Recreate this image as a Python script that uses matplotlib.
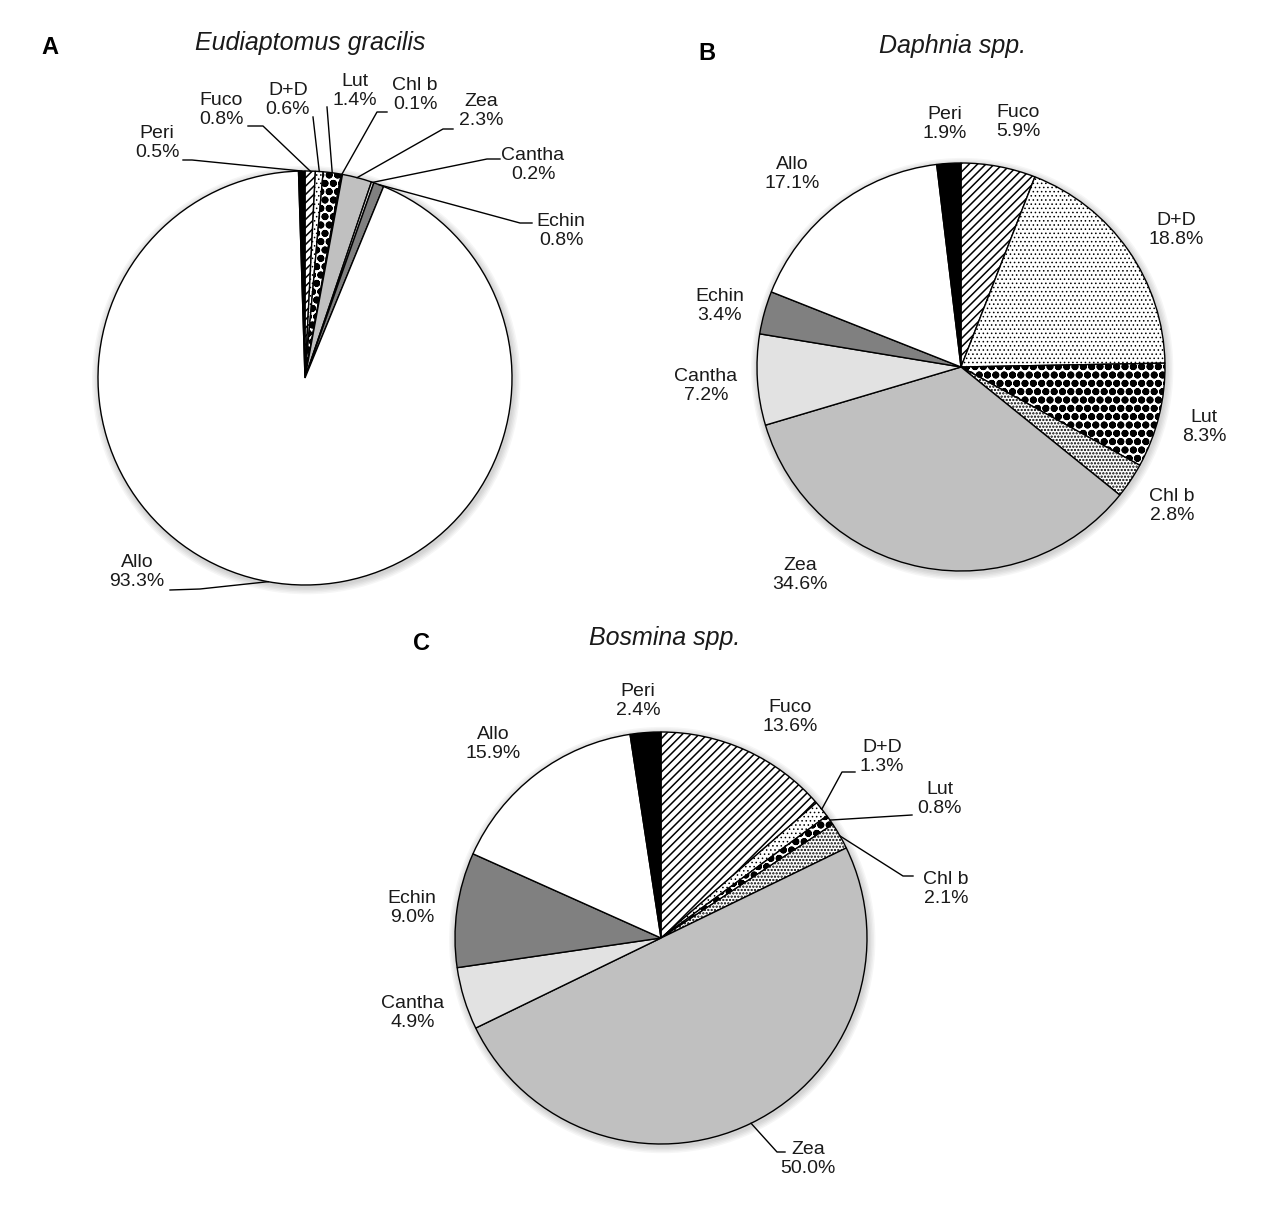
import numpy as np
import matplotlib.pyplot as plt
from matplotlib.patches import Circle

plt.rcParams['font.family'] = ['Liberation Sans', 'DejaVu Sans']

# pigment shares (%), slices in clockwise order starting at 12 o'clock
pigments = ['Fuco', 'D+D', 'Lut', 'Chl b', 'Zea', 'Cantha', 'Echin', 'Allo', 'Peri']
eudiaptomus = [0.8, 0.6, 1.4, 0.1, 2.3, 0.2, 0.8, 93.3, 0.5]
daphnia = [5.9, 18.8, 8.3, 2.8, 34.6, 7.2, 3.4, 17.1, 1.9]
bosmina = [13.6, 1.3, 0.8, 2.1, 50.0, 4.9, 9.0, 15.9, 2.4]

fills = ['white', 'white', 'white', 'white', '#c0c0c0', '#e2e2e2', '#808080', 'white', 'black']
hatches = ['////', '....', 'oo', '.....', None, None, None, None, None]
hatch_lw = [1.1, 0.6, 2.6, 1.1, 1.0, 1.0, 1.0, 1.0, 1.0]

W, H = 1280, 1216
fig = plt.figure(figsize=(W / 100, H / 100), dpi=100)


def draw_pie(values, cx, cy, r, title, title_xy, letter, letter_xy, label_pos, leaders):
    ax = fig.add_axes([(cx - r) / W, (H - cy - r) / H, 2 * r / W, 2 * r / H])
    # soft shadow round the pie
    for k in range(1, 6):
        ax.add_patch(Circle((0.006, -0.010), 1.0 + 0.007 * k, color='black',
                            alpha=0.035, lw=0, zorder=0, clip_on=False))
    ax.add_patch(Circle((0, 0), 1.0, color='white', lw=0, zorder=0.5))
    wedges, _ = ax.pie(values, startangle=90, counterclock=False, colors=fills,
                       wedgeprops=dict(edgecolor='black', linewidth=1.0))
    ax.set_xlim(-1, 1)
    ax.set_ylim(-1, 1)
    for w, h, hl in zip(wedges, hatches, hatch_lw):
        if h:
            w.set_hatch(h)
            if hasattr(w, 'set_hatch_linewidth'):
                w.set_hatch_linewidth(hl)

    def to_data(x, y):
        return (x - cx) / r, (cy - y) / r

    for name, v, w in zip(pigments, values, wedges):
        tx, ty = to_data(*label_pos[name])
        ax.text(tx, ty, f'{name}\n{v:.1f}%', ha='center', va='center',
                fontsize=14, linespacing=1.15, color='#1a1a1a', clip_on=False)
        if name in leaders:
            mid = np.deg2rad((w.theta1 + w.theta2) / 2)
            pts = [(np.cos(mid), np.sin(mid))] + [to_data(x, y) for x, y in leaders[name]]
            xs, ys = zip(*pts)
            ax.plot(xs, ys, color='black', lw=1.0, clip_on=False, zorder=3)

    fig.text(title_xy[0] / W, 1 - title_xy[1] / H, title, ha='center', va='center',
             fontsize=18, style='italic', color='#1a1a1a')
    fig.text(letter_xy[0] / W, 1 - letter_xy[1] / H, letter, ha='center', va='center',
             fontsize=17, fontweight='bold')


pos_a = {'Peri': (157, 143), 'Fuco': (221, 110), 'D+D': (288, 100), 'Lut': (355, 91),
         'Chl b': (415, 95), 'Zea': (481, 111), 'Cantha': (533, 165),
         'Echin': (561, 231), 'Allo': (137, 572)}
lead_a = {'Peri': [(192, 160), (183, 160)], 'Fuco': [(263, 126), (248, 126)],
          'D+D': [(313, 117)], 'Lut': [(327, 107)],
          'Chl b': [(377, 112), (387, 112)], 'Zea': [(443, 129), (453, 129)],
          'Cantha': [(487, 159), (500, 159)], 'Echin': [(520, 223), (532, 223)],
          'Allo': [(200, 589), (170, 590)]}

pos_b = {'Peri': (945, 124), 'Fuco': (1018, 122), 'D+D': (1176, 230), 'Lut': (1204, 427),
         'Chl b': (1172, 506), 'Zea': (800, 575), 'Cantha': (706, 386),
         'Echin': (720, 306), 'Allo': (792, 174)}

pos_c = {'Peri': (638, 701), 'Fuco': (790, 717), 'D+D': (882, 757), 'Lut': (940, 799),
         'Chl b': (946, 889), 'Zea': (808, 1159), 'Cantha': (413, 1013),
         'Echin': (412, 908), 'Allo': (493, 744)}
lead_c = {'D+D': [(842, 772), (855, 772)], 'Lut': [(912, 815)],
          'Chl b': [(903, 876), (913, 876)], 'Zea': [(777, 1152), (785, 1152)]}

draw_pie(eudiaptomus, 305, 378, 207, 'Eudiaptomus gracilis', (310, 43), 'A', (50, 47),
         pos_a, lead_a)
draw_pie(daphnia, 961, 367, 204, 'Daphnia spp.', (953, 46), 'B', (707, 53), pos_b, {})
draw_pie(bosmina, 661, 938, 206, 'Bosmina spp.', (665, 638), 'C', (422, 643), pos_c, lead_c)

fig.savefig('out.png', dpi=100, facecolor='white')
